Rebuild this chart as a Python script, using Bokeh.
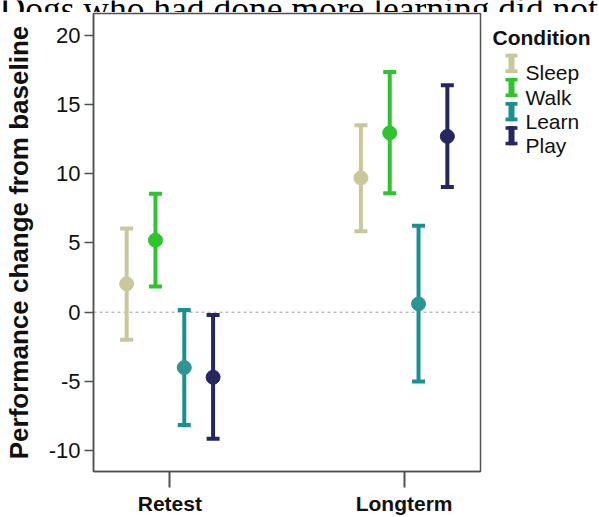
from bokeh.plotting import figure
from bokeh.models import ColumnDataSource, Whisker, TeeHead, Range1d, FixedTicker, Span
from bokeh.layouts import column, row
from bokeh.core.properties import value
from bokeh.embed import file_html
from bokeh.resources import INLINE

# ---------------- data ----------------
phases = ["Retest", "Longterm"]
conditions = ["Sleep", "Walk", "Learn", "Play"]
bar_colors = ["#CAC79B", "#2EC42E", "#1B9090", "#262660"]
dot_colors = ["#CAC79B", "#2EC42E", "#2E9595", "#262660"]

sleep_mean = [2.05, 9.7]
sleep_low = [-2.0, 5.85]
sleep_high = [6.05, 13.5]

walk_mean = [5.2, 12.95]
walk_low = [1.85, 8.6]
walk_high = [8.55, 17.35]

learn_mean = [-4.0, 0.6]
learn_low = [-8.15, -5.0]
learn_high = [0.15, 6.25]

play_mean = [-4.7, 12.7]
play_low = [-9.15, 9.05]
play_high = [-0.2, 16.4]

y_ticks = [-10, -5, 0, 5, 10, 15, 20]
y_label = "Performance change from baseline"
legend_title = "Condition"
title_text = "Dogs who had done more learning did not"

series = {
    "Sleep": (sleep_mean, sleep_low, sleep_high),
    "Walk": (walk_mean, walk_low, walk_high),
    "Learn": (learn_mean, learn_low, learn_high),
    "Play": (play_mean, play_low, play_high),
}

txt_col = "#111111"
ax_col = "#505050"
W, H = 599, 517

# ---------------- title strip (cut off at top, as in the reference) ----------------
TH = 12
tfig = figure(width=W, height=TH, output_backend="svg", toolbar_location=None,
              x_range=Range1d(0, W), y_range=Range1d(TH, 0),
              min_border=0, min_border_left=0, min_border_right=0,
              min_border_top=0, min_border_bottom=0)
tfig.axis.visible = False
tfig.grid.visible = False
tfig.outline_line_color = None
tfig.text(x=[-1], y=[8], text=[title_text], text_font=value("Liberation Serif"),
          text_font_size="35.5px", text_color="#000000", text_baseline="alphabetic")

# ---------------- main plot ----------------
PW, PH = 482, H - TH
p = figure(width=PW, height=PH, output_backend="svg", toolbar_location=None,
           x_range=Range1d(-0.326, 1.326), y_range=Range1d(-11.51, 21.58),
           min_border_left=90, min_border_right=2, min_border_top=1,
           min_border_bottom=44)
p.background_fill_color = "white"
p.border_fill_color = "white"
p.outline_line_color = ax_col
p.outline_line_width = 1.5
p.xgrid.visible = False
p.ygrid.visible = False

p.yaxis.ticker = FixedTicker(ticks=y_ticks)
p.yaxis.major_label_overrides = {t: str(t) for t in y_ticks}
p.yaxis.minor_tick_line_color = None
p.yaxis.major_tick_in = 0
p.yaxis.major_tick_out = 9
p.yaxis.major_label_standoff = 4
p.yaxis.major_label_text_font = "Liberation Sans"
p.yaxis.major_label_text_font_size = "22px"
p.yaxis.major_label_text_color = txt_col
p.yaxis.axis_line_color = ax_col
p.yaxis.axis_line_width = 1.5
p.yaxis.major_tick_line_color = ax_col
p.yaxis.major_tick_line_width = 1.5
p.yaxis.axis_label = y_label
p.yaxis.axis_label_text_font = "Liberation Sans"
p.yaxis.axis_label_text_font_style = "bold"
p.yaxis.axis_label_text_font_size = "26px"
p.yaxis.axis_label_text_color = txt_col
p.yaxis.axis_label_standoff = 12

p.xaxis.ticker = FixedTicker(ticks=list(range(len(phases))))
p.xaxis.major_label_overrides = {i: name for i, name in enumerate(phases)}
p.xaxis.minor_tick_line_color = None
p.xaxis.major_tick_in = 0
p.xaxis.major_tick_out = 16
p.xaxis.major_label_standoff = 4
p.xaxis.major_label_text_font = "Liberation Sans"
p.xaxis.major_label_text_font_style = "bold"
p.xaxis.major_label_text_font_size = "21px"
p.xaxis.major_label_text_color = txt_col
p.xaxis.axis_line_color = ax_col
p.xaxis.axis_line_width = 1.5
p.xaxis.major_tick_line_color = ax_col
p.xaxis.major_tick_line_width = 2

zero = Span(location=0, dimension="width", line_color="#9a9a9a", line_width=1,
            line_dash="3 3", level="image")
p.add_layout(zero)

step = 0.123  # dodge spacing between conditions (layout only)
for i, cond in enumerate(conditions):
    mean, low, high = series[cond]
    off = (i - (len(conditions) - 1) / 2) * step
    xs = [k + off for k in range(len(phases))]
    src = ColumnDataSource(dict(x=xs, mean=mean, lower=low, upper=high))
    col = bar_colors[i]
    w = Whisker(source=src, base="x", lower="lower", upper="upper", dimension="height",
                line_color=col, line_width=4, level="underlay",
                upper_head=TeeHead(size=13, line_color=col, line_width=4),
                lower_head=TeeHead(size=13, line_color=col, line_width=4))
    p.add_layout(w)
    p.scatter("x", "mean", source=src, size=14, marker="circle",
              fill_color=dot_colors[i], line_color=dot_colors[i])

# ---------------- legend panel (pixel coordinates, y downward) ----------------
LW, LH = W - PW, PH
leg = figure(width=LW, height=LH, output_backend="svg", toolbar_location=None,
             x_range=Range1d(0, LW), y_range=Range1d(LH, 0),
             min_border=0, min_border_left=0, min_border_right=0,
             min_border_top=0, min_border_bottom=0)
leg.axis.visible = False
leg.grid.visible = False
leg.outline_line_color = None
leg.background_fill_color = "white"

leg.text(x=[10], y=[26], text=[legend_title], text_font=value("Liberation Sans"),
         text_font_style="bold", text_font_size="21px", text_color=txt_col,
         text_baseline="alphabetic")

bases = [65.5 + i * 26.6 for i in range(len(conditions))]
leg.text(x=[43] * len(conditions), y=bases, text=conditions,
         text_font=value("Liberation Sans"), text_font_size="21px",
         text_color=txt_col, text_baseline="alphabetic")
stem_src = ColumnDataSource(dict(l=[26] * 4, r=[32] * 4, t=[b - 21 for b in bases],
                                 b=bases, c=bar_colors))
leg.quad(left="l", right="r", top="t", bottom="b", source=stem_src,
         fill_color="c", line_color=None)
cap_top = ColumnDataSource(dict(l=[23] * 4, r=[35] * 4, t=[b - 21 for b in bases],
                                b=[b - 17 for b in bases], c=bar_colors))
leg.quad(left="l", right="r", top="t", bottom="b", source=cap_top,
         fill_color="c", line_color=None)
cap_bot = ColumnDataSource(dict(l=[23] * 4, r=[35] * 4, t=[b - 4 for b in bases],
                                b=bases, c=bar_colors))
leg.quad(left="l", right="r", top="t", bottom="b", source=cap_bot,
         fill_color="c", line_color=None)

layout = column(tfig, row(p, leg))
open("out.html", "w").write(file_html(layout, INLINE))
